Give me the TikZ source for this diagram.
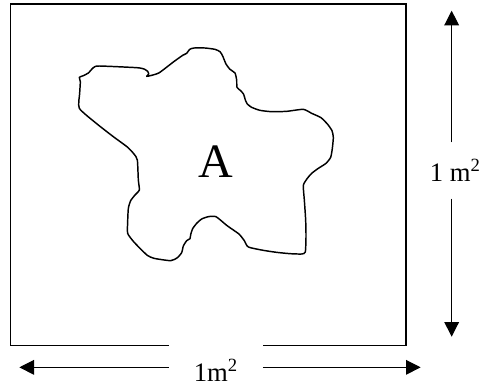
\documentclass[tikz,border=0pt]{standalone}
\usepackage{fontspec}
\setmainfont{Liberation Serif}
\usetikzlibrary{arrows.meta}
\tikzset{
  frame/.style={line width=1pt},
  blob/.style={line width=1.1pt, line join=round},
  dimarrow/.style={line width=0.85pt, -{Triangle[length=11pt,width=11pt]}},
  dimlabel/.style={inner sep=0pt, font=\fontsize{20}{24}\selectfont},
}
\begin{document}
\begin{tikzpicture}[x=0.25pt,y=-0.25pt]
\useasboundingbox (0,0) rectangle (1446,1170);
% square
\draw[frame] (32,12) rectangle (1218,1036);
% blob
\draw[blob] plot[smooth cycle, tension=0.35] coordinates {
(238,232) (250,227) (265,219) (280,203) (297,198) (410,203) (432,207) (443,214) (446,222) (440,229) (455,226) (478,218) (520,186) (548,166) (560,160) (569,148) (582,144) (615,144) (645,148) (660,155) (668,168) (678,192) (690,208) (705,219) (710,240) (711,262) (722,272) (731,283) (736,300) (742,312) (755,322) (780,331) (815,335) (860,334) (910,328) (935,340) (963,353) (983,373) (996,392) (1000,412) (997,445) (992,472) (978,490) (955,505) (935,520) (922,535) (910,556) (913,600) (917,660) (918,710) (916,756) (905,762) (870,761) (830,757) (790,751) (745,741) (733,722) (718,703) (700,690) (680,676) (648,650) (625,650) (605,657) (590,670) (578,686) (572,704) (570,716) (560,722) (550,738) (545,758) (532,773) (512,782) (462,775) (442,766) (420,745) (400,724) (383,700) (383,665) (385,625) (392,602) (405,585) (418,570) (415,540) (412,480) (402,462) (382,441) (340,410) (290,371) (238,325) (239,280) (241,245)};
\node[inner sep=0pt, font=\fontsize{36}{40}\selectfont, anchor=base] (A) at (647,533) {A};
% horizontal dimension
\node[dimlabel, fill=white, minimum width=70.25pt, minimum height=41pt] (hlab) at (647.5,1112) {1m\textsuperscript{2}};
\coordinate (hleft) at (58,1102);
\coordinate (hright) at (1262,1102);
\draw[dimarrow] (hlab.west |- hleft) -- (hleft);
\draw[dimarrow] (hlab.east |- hright) -- (hright);
% vertical dimension
\node[dimlabel, minimum height=41.75pt, anchor=east] (vlab) at (1443,511.5) {1 m\textsuperscript{2}};
\coordinate (vtop) at (1355,32);
\coordinate (vbot) at (1355,1010);
\draw[dimarrow] (vlab.north -| vtop) -- (vtop);
\draw[dimarrow] (vlab.south -| vbot) -- (vbot);
\end{tikzpicture}
\end{document}
